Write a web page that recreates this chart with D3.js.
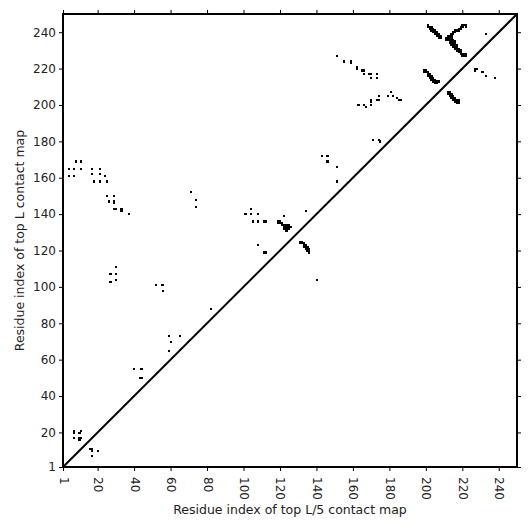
<!DOCTYPE html>
<html><head><meta charset="utf-8">
<script src="https://cdn.jsdelivr.net/npm/d3@7"></script>
<style>body{margin:0;background:#fff}svg{display:block}text{font-family:"DejaVu Sans",sans-serif}</style>
</head><body><svg id="c" width="531" height="531"></svg>
<script>
const seqLength = 250;
const tickValues = [1,20,40,60,80,100,120,140,160,180,200,220,240];
const xLabel = "Residue index of top L/5 contact map";
const yLabel = "Residue index of top L contact map";
// contact residue pairs [i (x), j (y)]
const contactsBottomLeft = [[7,21],[7,20],[10,20],[11,21],[7,17],[10,17],[10,16],[11,17],
  [16,11],[17,11],[17,10],[20,10],[17,7],[40,55],[44,55],[43,50],[44,50],
  [59,73],[65,73],[60,70],[59,65],[82,88]];
const contactsLeft = [[27,107],[30,107],[27,103],[30,104],[30,111],[52,101],[55,101],[56,101],[56,98],
  [4,165],[7,165],[11,165],[17,165],[21,165],[8,169],[11,169],
  [4,161],[7,161],[17,162],[21,162],[24,161],[18,158],[21,158],[25,158],
  [25,150],[29,150],[26,147],[29,147],[29,146],[29,143],[30,143],[33,143],[33,142],[37,140],
  [71,152],[74,148],[74,144]];
const contactsMiddle = [[104,143],[104,140],[101,140],[108,140],[105,136],[108,136],[111,136],[112,136],
  [122,139],[134,142],[108,123],[111,119],[112,119],[140,104],
  [119,136],[120,136],[119,135],[120,135],[121,135],[121,134],[122,134],[123,134],[124,134],[125,134],
  [122,133],[123,133],[124,133],[125,133],[126,133],[122,132],[123,132],[124,132],[125,132],[123,131],[124,131],
  [131,125],[132,125],[131,124],[132,124],[133,124],[133,123],[133,122],[134,123],[134,122],[134,121],[135,122],[135,121],[135,120],[136,121],[136,120],[136,119],
  [143,172],[146,172],[146,169],[151,166],[151,158]];
const contactsUpper = [[151,227],[155,224],[159,224],[159,223],[162,221],[162,220],[165,219],[166,219],[166,217],
  [169,217],[170,217],[173,217],[170,215],[173,215],
  [181,207],[174,205],[179,205],[182,205],[184,204],[185,203],[186,203],
  [170,203],[173,203],[174,203],[170,202],[163,200],[166,200],[167,199],[170,200],
  [171,181],[174,181],[175,180]];
const contactsTopRight = [[201,244],[201,243],[202,242],[203,242],[203,241],[204,241],[204,240],[205,240],[205,239],[206,239],[206,238],[207,238],[207,237],
  [202,243],[203,243],[204,242],[205,241],[206,240],[207,239],[208,238],[208,237],
  [212,237],[213,237],[213,238],[214,238],[214,239],[215,239],[215,240],[216,240],[216,241],[217,241],[218,241],[218,242],[219,242],[219,243],[220,243],[220,244],[221,244],[222,244],[222,243],
  [212,236],[213,236],[214,236],[213,235],[214,235],[215,235],[214,234],[215,234],[216,234],[215,233],[216,233],[217,233],[216,232],[217,232],[217,231],[218,231],[218,230],[219,230],[219,229],[219,228],[220,228],[221,228],[222,228],[220,227],[221,227],[222,227],
  [213,234],[214,233],[215,232],[216,231],[217,230],[218,229],[212,238],[211,237],[211,236],
  [214,237],[215,236],[216,235],[233,239],
  [227,220],[228,220],[227,219],[231,218],[233,216],[238,215],
  [199,219],[200,219],[200,218],[201,218],[201,217],[202,217],[202,216],[203,216],[203,215],[204,215],[204,214],[205,214],[205,213],[206,213],[207,213],
  [199,218],[201,216],[202,215],[203,214],[204,213],[205,212],[206,212],
  [212,207],[212,206],[213,206],[213,205],[214,205],[214,204],[215,204],[215,203],[216,203],[216,202],[217,202],[218,202],[217,201],[218,201],
  [213,207],[214,206],[215,205],[216,204],[217,203],[218,203]];

const contacts = [].concat(contactsBottomLeft, contactsLeft, contactsMiddle, contactsUpper, contactsTopRight);

const svg = d3.select("#c");
const L = 63, R = 517, T = 14, B = 467;
const x = d3.scaleLinear().domain([1, seqLength]).range([L, R]);
const y = d3.scaleLinear().domain([1, seqLength]).range([B, T]);

const cw = x(1.5) - x(0.5), ch = y(0.5) - y(1.5);
svg.append("g").attr("shape-rendering", "crispEdges").selectAll("rect").data(contacts).join("rect")
  .attr("x", d => x(d[0]) - cw/2).attr("y", d => y(d[1]) - ch/2)
  .attr("width", cw + 0.3).attr("height", ch + 0.3).attr("fill", "#000");

svg.append("line").attr("x1", x(1)).attr("y1", y(1)).attr("x2", x(seqLength)).attr("y2", y(seqLength))
  .attr("stroke", "#000").attr("stroke-width", 2);

const tk = 4;
const ax = svg.append("g").attr("transform", `translate(0,${B})`)
  .call(d3.axisBottom(x).tickValues(tickValues).tickSize(tk).tickSizeOuter(0).tickFormat(d3.format("d")));
ax.selectAll("text").attr("transform", null).attr("x", 0).attr("y", 0).attr("dy", null)
  .attr("text-anchor", "start").attr("dominant-baseline", "central")
  .attr("transform", `translate(0,${tk + 6}) rotate(90)`);
svg.append("g").attr("transform", `translate(${L},0)`)
  .call(d3.axisLeft(y).tickValues(tickValues).tickSize(tk).tickSizeOuter(0).tickFormat(d3.format("d")));
svg.append("g").attr("transform", `translate(0,${T})`)
  .call(d3.axisTop(x).tickValues(tickValues).tickSize(tk).tickSizeOuter(0).tickFormat(""));
svg.append("g").attr("transform", `translate(${R},0)`)
  .call(d3.axisRight(y).tickValues(tickValues).tickSize(tk).tickSizeOuter(0).tickFormat(""));
svg.selectAll(".domain").remove();
svg.selectAll(".tick line").attr("stroke", "#000");
svg.selectAll(".tick text").attr("font-size", 12).attr("fill", "#222").style("font-family", "DejaVu Sans");

svg.append("rect").attr("x", L).attr("y", T).attr("width", R - L).attr("height", B - T)
  .attr("fill", "none").attr("stroke", "#000").attr("stroke-width", 2);

svg.append("text").attr("x", (L + R) / 2).attr("y", 514).attr("text-anchor", "middle")
  .attr("font-size", 12.5).attr("fill", "#222").text(xLabel);
svg.append("text").attr("transform", `translate(24,${(T + B) / 2}) rotate(-90)`).attr("text-anchor", "middle")
  .attr("font-size", 12.5).attr("fill", "#222").text(yLabel);
</script></body></html>
